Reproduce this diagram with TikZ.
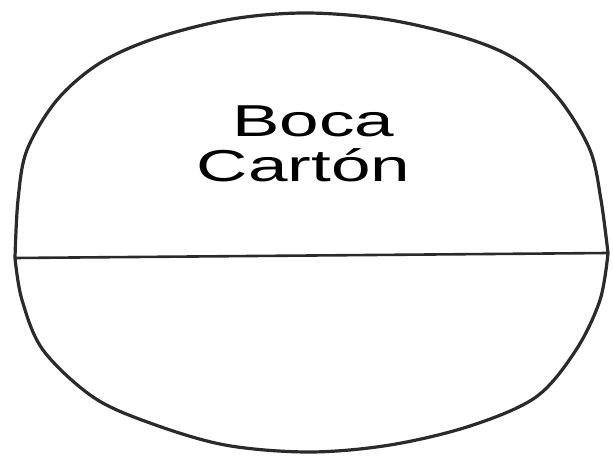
\documentclass[tikz,border=0pt]{standalone}
\usepackage{fontspec}
\setmainfont{Liberation Sans}
\definecolor{ink}{HTML}{2A2A2A}
\begin{document}
\begin{tikzpicture}[x=1pt,y=-1pt,
  outline/.style={draw=ink,line width=3.2pt,line join=round},
  divider/.style={draw=ink,line width=2.6pt},
  label/.style={anchor=base,inner sep=0pt,text=black,font=\fontsize{44.7}{45}\selectfont}]
\useasboundingbox (0,0) rectangle (613,457);
\coordinate (L) at (15,258);
\coordinate (R) at (608,253);
\draw[outline] plot[smooth,tension=0.55] coordinates {
  (L) (18,200) (27,150) (57,100) (100,63) (156,38) (232,19) (308,13)
  (390,20) (469,39) (520,62) (560,100) (590,150) (601,200) (R)};
\draw[outline] plot[smooth,tension=0.55] coordinates {
  (R) (600,300) (576,350) (536,397) (470,426) (390,445) (309,452)
  (225,445) (150,423) (93,397) (43,350) (22,300) (L)};
\draw[divider] (L) -- (R);
\node[label] (boca) at (313.5,137) {\scalebox{1.59}[1]{Boca}};
\node[label] (carton) at (303.5,182) {\scalebox{1.59}[1]{Cartón}};
\end{tikzpicture}
\end{document}
